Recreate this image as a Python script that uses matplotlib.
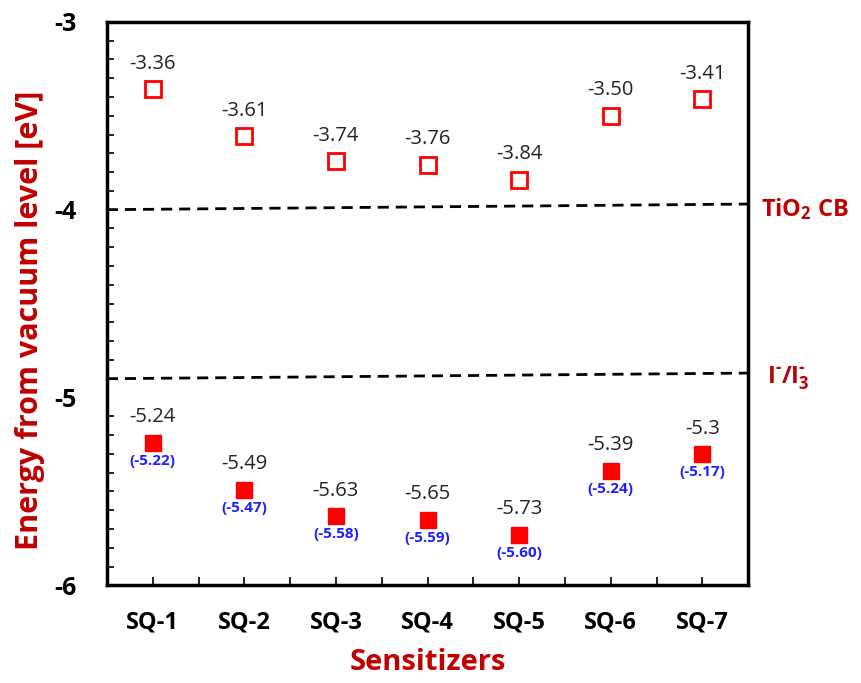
import matplotlib.pyplot as plt
from matplotlib.ticker import MultipleLocator

# ── Energy levels of the sensitizers ───────────────────
dyes = ["SQ-1", "SQ-2", "SQ-3", "SQ-4", "SQ-5", "SQ-6", "SQ-7"]
lumo = [-3.36, -3.61, -3.74, -3.76, -3.84, -3.50, -3.41]
homo = [-5.24, -5.49, -5.63, -5.65, -5.73, -5.39, -5.30]
homo_labels = ["-5.24", "-5.49", "-5.63", "-5.65", "-5.73", "-5.39", "-5.3"]
homo_exp = ["(-5.22)", "(-5.47)", "(-5.58)", "(-5.59)", "(-5.60)", "(-5.24)", "(-5.17)"]
y_ticks = [-6, -5, -4, -3]

# reference levels (drawn with a tiny tilt like the original sketch)
tio2_cb = [-4.00, -3.97]
redox = [-4.90, -4.87]

dark_red = "#C00000"
plt.rcParams["font.family"] = ["Open Sans", "DejaVu Sans"]
plt.rcParams["mathtext.fontset"] = "custom"
plt.rcParams["mathtext.rm"] = "Open Sans:bold"
plt.rcParams["mathtext.it"] = "Open Sans:bold"
plt.rcParams["mathtext.bf"] = "Open Sans:bold"

fig = plt.figure(figsize=(8.62, 6.83), dpi=100)
ax = fig.add_axes([0.124, 0.143, 0.744, 0.825])

x = list(range(1, len(dyes) + 1))

ax.plot(x, lumo, ls="none", marker="s", ms=11, mfc="white", mec="red", mew=2)
ax.plot(x, homo, ls="none", marker="s", ms=11, mfc="red", mec="red")

for xi, v in zip(x, lumo):
    ax.annotate(f"{v:.2f}", (xi, v), xytext=(0, 11), textcoords="offset points",
                ha="center", va="bottom", fontsize=14.5, color="#222222")
for xi, v, lab, exp in zip(x, homo, homo_labels, homo_exp):
    ax.annotate(lab, (xi, v), xytext=(0, 11), textcoords="offset points",
                ha="center", va="bottom", fontsize=14.5, color="#222222")
    ax.annotate(exp, (xi, v), xytext=(0, -8), textcoords="offset points",
                ha="center", va="top", fontsize=11, color="#2020FF", fontweight="bold")

ax.plot([0.5, 7.5], tio2_cb, ls="--", color="black", lw=2, dashes=(4, 2.5))
ax.plot([0.5, 7.5], redox, ls="--", color="black", lw=2, dashes=(4, 2.5))

ax.text(1.02, 0.668, r"TiO$_\text{2}$ CB", transform=ax.transAxes,
        fontsize=17, fontweight="bold", color=dark_red, va="center")
ax.text(1.03, 0.368, r"I$^\text{-}$/I$_\text{3}^\text{-}$",
        transform=ax.transAxes, fontsize=17, fontweight="bold", color=dark_red, va="center")

ax.set_xlim(0.5, 7.5)
ax.set_ylim(-6, -3)
ax.set_xticks(x)
ax.set_xticklabels(dyes)
ax.xaxis.set_minor_locator(MultipleLocator(1.0, offset=0.5))
ax.set_yticks(y_ticks)
ax.set_yticklabels([str(t) for t in y_ticks])
ax.yaxis.set_minor_locator(MultipleLocator(0.1))

ax.tick_params(axis="both", which="both", direction="in", width=1.2)
ax.tick_params(axis="y", which="major", length=0, pad=22, labelsize=18)
ax.tick_params(axis="y", which="minor", length=5)
ax.tick_params(axis="x", which="both", length=6, pad=18, labelsize=17)
for lab in ax.get_xticklabels() + ax.get_yticklabels():
    lab.set_fontweight("bold")
for s in ax.spines.values():
    s.set_linewidth(2.5)

ax.set_ylabel("Energy from vacuum level [eV]", fontsize=22, fontweight="bold",
              color=dark_red)
ax.yaxis.set_label_coords(-0.097, 0.47)
ax.set_xlabel("Sensitizers", fontsize=21, fontweight="bold", color=dark_red, labelpad=10)

fig.savefig("out.png", dpi=100)
